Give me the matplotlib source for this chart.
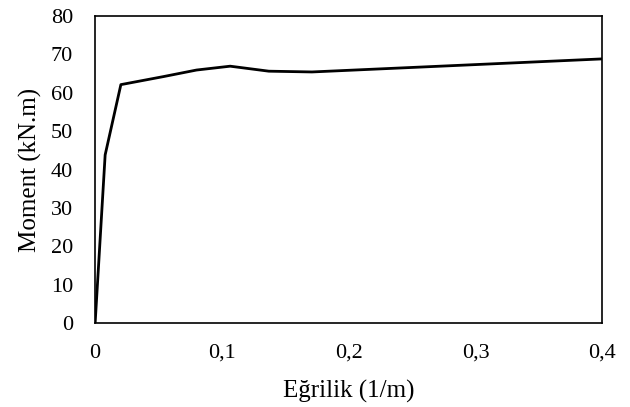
import matplotlib
matplotlib.use("Agg")
import matplotlib.pyplot as plt

# Moment - eğrilik verisi
egrilik = [0, 0.0079, 0.0203, 0.054, 0.080, 0.1065, 0.137, 0.171, 0.40]
moment = [0, 43.8, 62.1, 64.2, 65.9, 66.9, 65.6, 65.4, 68.8]

x_ticks = [0, 0.1, 0.2, 0.3, 0.4]
x_labels = ["0", "0,1", "0,2", "0,3", "0,4"]
y_ticks = [0, 10, 20, 30, 40, 50, 60, 70, 80]

plt.rcParams['font.family'] = ['Liberation Serif', 'DejaVu Serif']

fig = plt.figure(figsize=(6.3, 4.07), dpi=100)
ax = fig.add_axes([0.151, 0.206, 0.805, 0.755])

ax.plot(egrilik, moment, color='black', linewidth=2)

ax.set_xlim(0, 0.4)
ax.set_ylim(0, 80)
ax.set_xticks(x_ticks)
ax.set_xticklabels(x_labels)
ax.set_yticks(y_ticks)
ax.tick_params(length=0, labelsize=16)
ax.tick_params(axis='y', pad=16)
ax.tick_params(axis='x', pad=15)
for s in ax.spines.values():
    s.set_linewidth(1.2)

ax.set_xlabel("Eğrilik (1/m)", fontsize=18, labelpad=12)
ax.set_ylabel("Moment (kN.m)", fontsize=18, labelpad=6)

fig.savefig("out.png", dpi=100)
